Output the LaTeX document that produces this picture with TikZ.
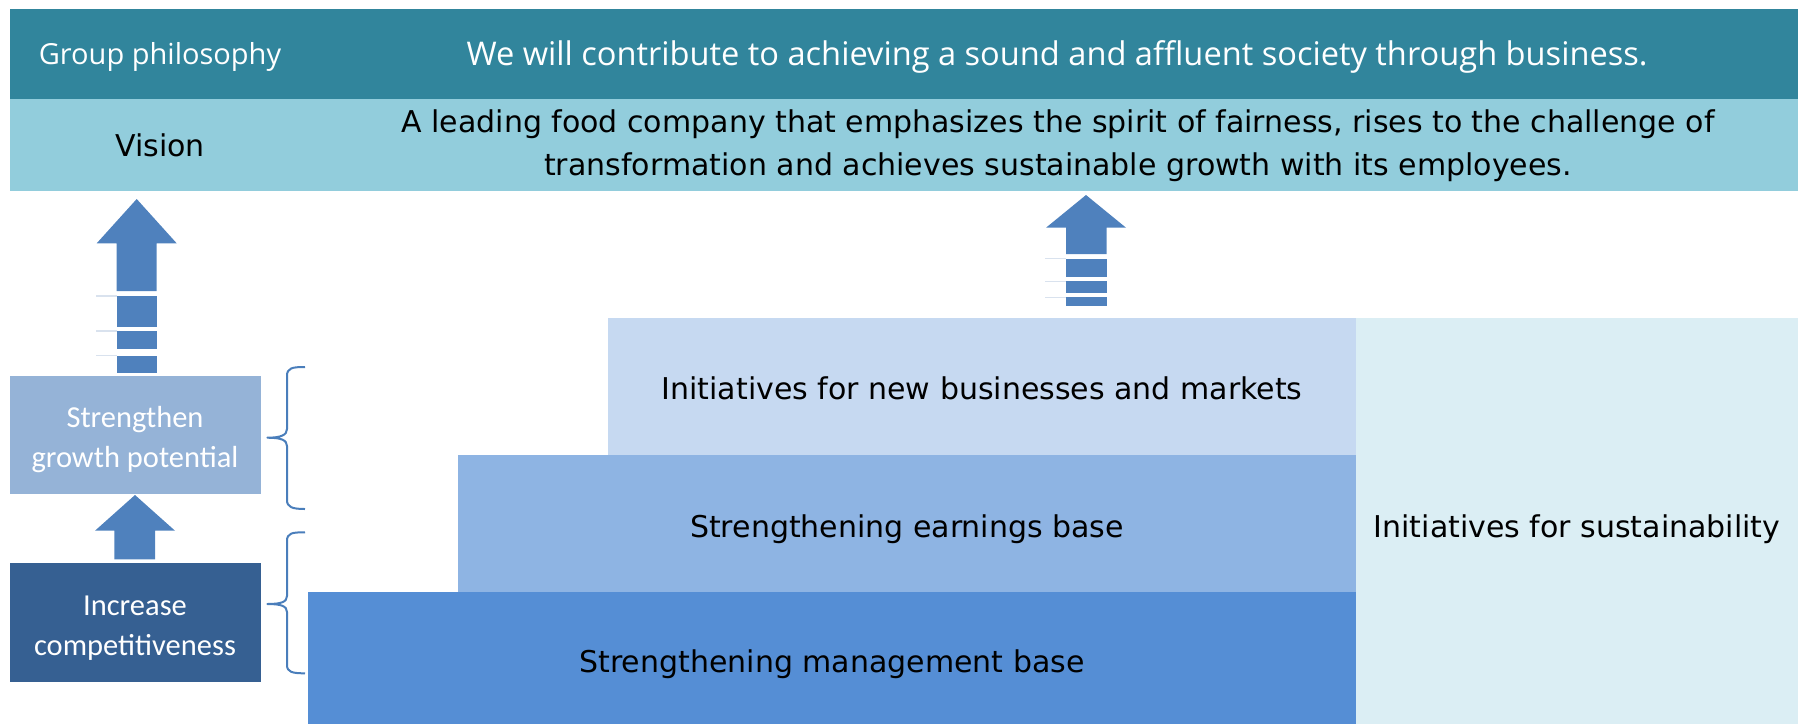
\documentclass[tikz,border=0pt]{standalone}
\usepackage{fontspec}
\setmainfont{DejaVu Sans}
\newfontfamily\carlfont{Carlito}
\newfontfamily\opensansfont{Open Sans}
\definecolor{teal1}{HTML}{31859C}
\definecolor{vis}{HTML}{92CDDC}
\definecolor{arr}{HTML}{4F81BD}
\definecolor{sg}{HTML}{95B3D7}
\definecolor{ic}{HTML}{366092}
\definecolor{stA}{HTML}{558ED5}
\definecolor{stB}{HTML}{8EB4E3}
\definecolor{stC}{HTML}{C6D9F1}
\definecolor{sus}{HTML}{DBEEF4}
\definecolor{thin}{HTML}{D9E2EE}
\definecolor{brc}{HTML}{4A7EBB}
\tikzset{
  whitetxt/.style={text=white, font=\opensansfont\fontsize{29}{36}\selectfont, align=center, inner sep=0pt},
  blacktxt/.style={text=black, font=\fontsize{30}{43}\selectfont, align=center, inner sep=0pt},
  lefttxt/.style={text=white, font=\carlfont\fontsize{30.5}{40}\selectfont, align=center, inner sep=0pt},
  blockarrow/.style={fill=arr, draw=none},
  thinline/.style={draw=thin, line width=1.5pt},
  bracepath/.style={draw=brc, line width=2pt, line join=round},
}
\begin{document}
\begin{tikzpicture}[x=1pt,y=-1pt]
\useasboundingbox (0,0) rectangle (1798,724);
% bands
\fill[teal1] (10,9) rectangle (1798,99);
\fill[vis] (10,99) rectangle (1798,191);
\node[whitetxt] (gp) at (160,56.5) {Group philosophy};
\node[whitetxt, font=\opensansfont\fontsize{32.6}{38}\selectfont] (gptext) at (1057,56.5) {We will contribute to achieving a sound and affluent society through business.};
\node[blacktxt] (vision) at (160,145) {Vision};
\node[blacktxt] (visiontext) at (1058,146) {A leading food company that emphasizes the spirit of fairness, rises to the challenge of\\transformation and achieves sustainable growth with its employees.};
% stairs
\fill[stC] (608,318) rectangle (1356,455);
\fill[stB] (457.5,455) rectangle (1356,592);
\fill[stA] (308,592) rectangle (1356,724);
\fill[sus] (1356,318) rectangle (1798,724);
\node[blacktxt] (newbiz) at (982,388) {Initiatives for new businesses and markets};
\node[blacktxt] (earn) at (907,529) {Strengthening earnings base};
\node[blacktxt] (mgmt) at (832,664) {Strengthening management base};
\node[blacktxt] (sust) at (1577,529) {Initiatives for sustainability};
% left boxes
\fill[sg] (10,376) rectangle (261,494);
\fill[ic] (10,563) rectangle (261,682);
\node[lefttxt] (grow) at (135,439.5) {Strengthen\\growth potential};
\node[lefttxt] (comp) at (135,628) {Increase\\competitiveness};
% big left arrow
\fill[blockarrow] (136.7,199) -- (176.7,243.3) -- (156.7,243.3) -- (156.7,291) -- (116.7,291) -- (116.7,243.3) -- (96.7,243.3) -- cycle;
\fill[blockarrow] (116.7,295.7) rectangle (156.7,326.7);
\fill[blockarrow] (116.7,331) rectangle (156.7,349.3);
\fill[blockarrow] (116.7,355.7) rectangle (156.7,372.7);
\draw[thinline] (96,296) -- (116.7,296);
\draw[thinline] (96,331) -- (116.7,331);
\draw[thinline] (96,355.7) -- (116.7,355.7);
% small arrow
\fill[blockarrow] (135,495) -- (175,530.7) -- (155,530.7) -- (155,559.3) -- (114.3,559.3) -- (114.3,530.7) -- (95,530.7) -- cycle;
% right arrow
\fill[blockarrow] (1086,195) -- (1126,227.7) -- (1106.7,227.7) -- (1106.7,254) -- (1066,254) -- (1066,227.7) -- (1046,227.7) -- cycle;
\fill[blockarrow] (1066,258.7) rectangle (1106.7,276.7);
\fill[blockarrow] (1066,281.3) rectangle (1106.7,293.3);
\fill[blockarrow] (1066,297.3) rectangle (1106.7,306);
\draw[thinline] (1045,258.7) -- (1066,258.7);
\draw[thinline] (1045,281.3) -- (1066,281.3);
\draw[thinline] (1045,297.3) -- (1066,297.3);
% braces
\draw[bracepath] (305,367) .. controls (292,367) and (287,368) .. (287,376) -- (287,429) .. controls (287,435) and (281,437.7) .. (267.3,437.7) .. controls (281,437.7) and (287,440) .. (287,446) -- (287,500) .. controls (287,507) and (292,509) .. (305,509);
\draw[bracepath] (305,532.3) .. controls (292,532.3) and (287,533) .. (287,541) -- (287,596) .. controls (287,602) and (281,604) .. (267.3,604) .. controls (281,604) and (287,606) .. (287,612) -- (287,665) .. controls (287,672) and (292,673.3) .. (305,673.3);
\end{tikzpicture}
\end{document}
